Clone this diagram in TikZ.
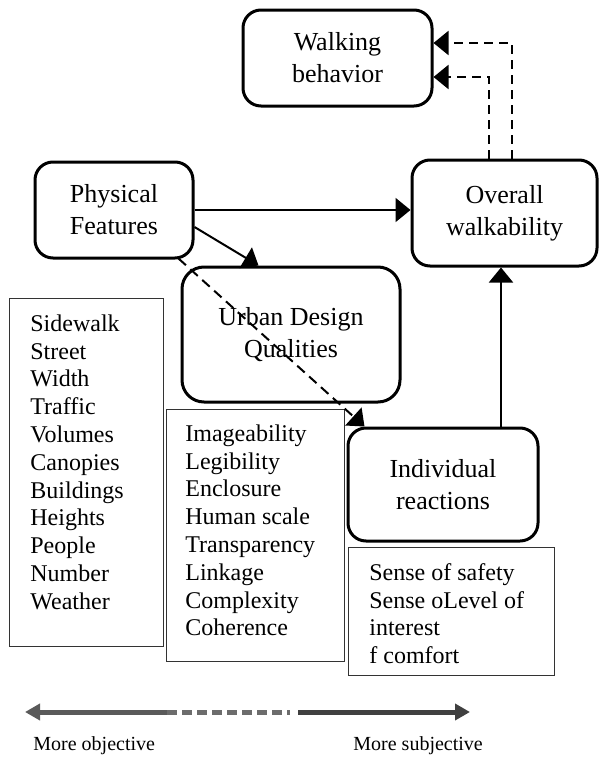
\documentclass[tikz,border=0pt]{standalone}
\usepackage{fontspec}
\setmainfont{Liberation Serif}
\usetikzlibrary{arrows.meta,calc}
\definecolor{objgray}{HTML}{5A5A5A}
\definecolor{midgray}{HTML}{6C6C6C}
\definecolor{subjgray}{HTML}{404040}
\begin{document}
\begin{tikzpicture}[x=0.5pt,y=-0.5pt,
  concept/.style={draw, line width=1.5pt, rounded corners=9pt, align=center,
    font=\fontsize{13}{16}\selectfont, inner sep=0pt},
  listbox/.style={draw=black!80, line width=0.6pt, anchor=north west, inner sep=0pt},
  listtext/.style={anchor=north west, align=left, inner sep=0pt,
    font=\fontsize{12}{13.9}\selectfont},
  link/.style={line width=1pt, -{Triangle[length=7.5pt,width=12pt]}},
  dlink/.style={link, dash pattern=on 4.5pt off 3pt},
  scalebar/.style={line width=2.5pt},
  scalehead/.style={Triangle[length=7.5pt,width=8pt]},
  endlabel/.style={anchor=base west, inner sep=0pt, font=\fontsize{10}{12}\selectfont}
]
\useasboundingbox (0,0) rectangle (599,760);

% concept boxes
\node[concept, minimum width=94.5pt, minimum height=48pt] (walk) at (337.5,58) {Walking\\behavior};
\node[concept, minimum width=92.5pt, minimum height=53pt] (overall) at (504.5,213) {Overall\\walkability};
\node[concept, minimum width=79pt, minimum height=48pt] (pf) at (114,210) {Physical\\Features};
\node[concept, rounded corners=11pt, minimum width=109pt, minimum height=67.5pt] (udq) at (291,334.5) {Urban Design\\Qualities};
\node[concept, minimum width=95pt, minimum height=56.5pt] (ir) at (443,484.5) {Individual\\reactions};

% attribute lists
\node[listbox, minimum width=77pt, minimum height=174pt] (pflist) at (9,298) {};
\node[listtext] (pftext) at (30,311.5) {\strut Sidewalk\\Street\\Width\\Traffic\\Volumes\\Canopies\\Buildings\\Heights\\People\\Number\\Weather};
\node[listbox, minimum width=89pt, minimum height=126pt] (udqlist) at (166,409) {};
\node[listtext] (udqtext) at (185,421.5) {\strut Imageability\\Legibility\\Enclosure\\Human scale\\Transparency\\Linkage\\Complexity\\Coherence};
\node[listbox, minimum width=103pt, minimum height=64pt] (irlist) at (348,547) {};
\node[listtext] (irtext) at (369,560.5) {\strut Sense of safety\\Sense oLevel of\\interest\\f comfort};

% relations
\draw[link] (pf.east) -- (pf.east -| overall.west);
\draw[link] ($(pf.east)+(0,17)$) -- ($(udq.north west)+(78,0)$);
\draw[link, dash pattern=on 5pt off 3pt] ($(pf.south east)+(-16,-1)$) -- ($(ir.north west)+(18,0)$);
\coordinate (irout) at ($(ir.north)+(58,0)$);
\draw[link] (irout) -- (irout |- overall.south);
\coordinate (owA) at ($(overall.north)+(7.5,0)$);
\coordinate (owB) at ($(overall.north)+(-15.5,0)$);
\coordinate (wkA) at ($(walk.east)+(0,-15)$);
\coordinate (wkB) at ($(walk.east)+(0,19)$);
\draw[dlink] (owA) |- (wkA);
\draw[dlink] (owB) |- (wkB);

% objective-subjective scale
\coordinate (objEnd) at (25,712);
\coordinate (objMid) at (167,712);
\coordinate (subjMid) at (290,712);
\coordinate (subjStart) at (298,712);
\coordinate (subjEnd) at (470,712);
\draw[scalebar, draw=objgray, fill=objgray, {Triangle[length=7.5pt,width=8pt]}-] (objEnd) -- (objMid);
\draw[scalebar, draw=midgray, dash pattern=on 5pt off 2.5pt] (objMid) -- (subjMid);
\draw[scalebar, draw=subjgray, fill=subjgray, -{Triangle[length=7.5pt,width=8pt]}] (subjStart) -- (subjEnd);
\node[endlabel] (objlab) at (33,750) {More objective};
\node[endlabel] (subjlab) at (353,750) {More subjective};
\end{tikzpicture}
\end{document}
